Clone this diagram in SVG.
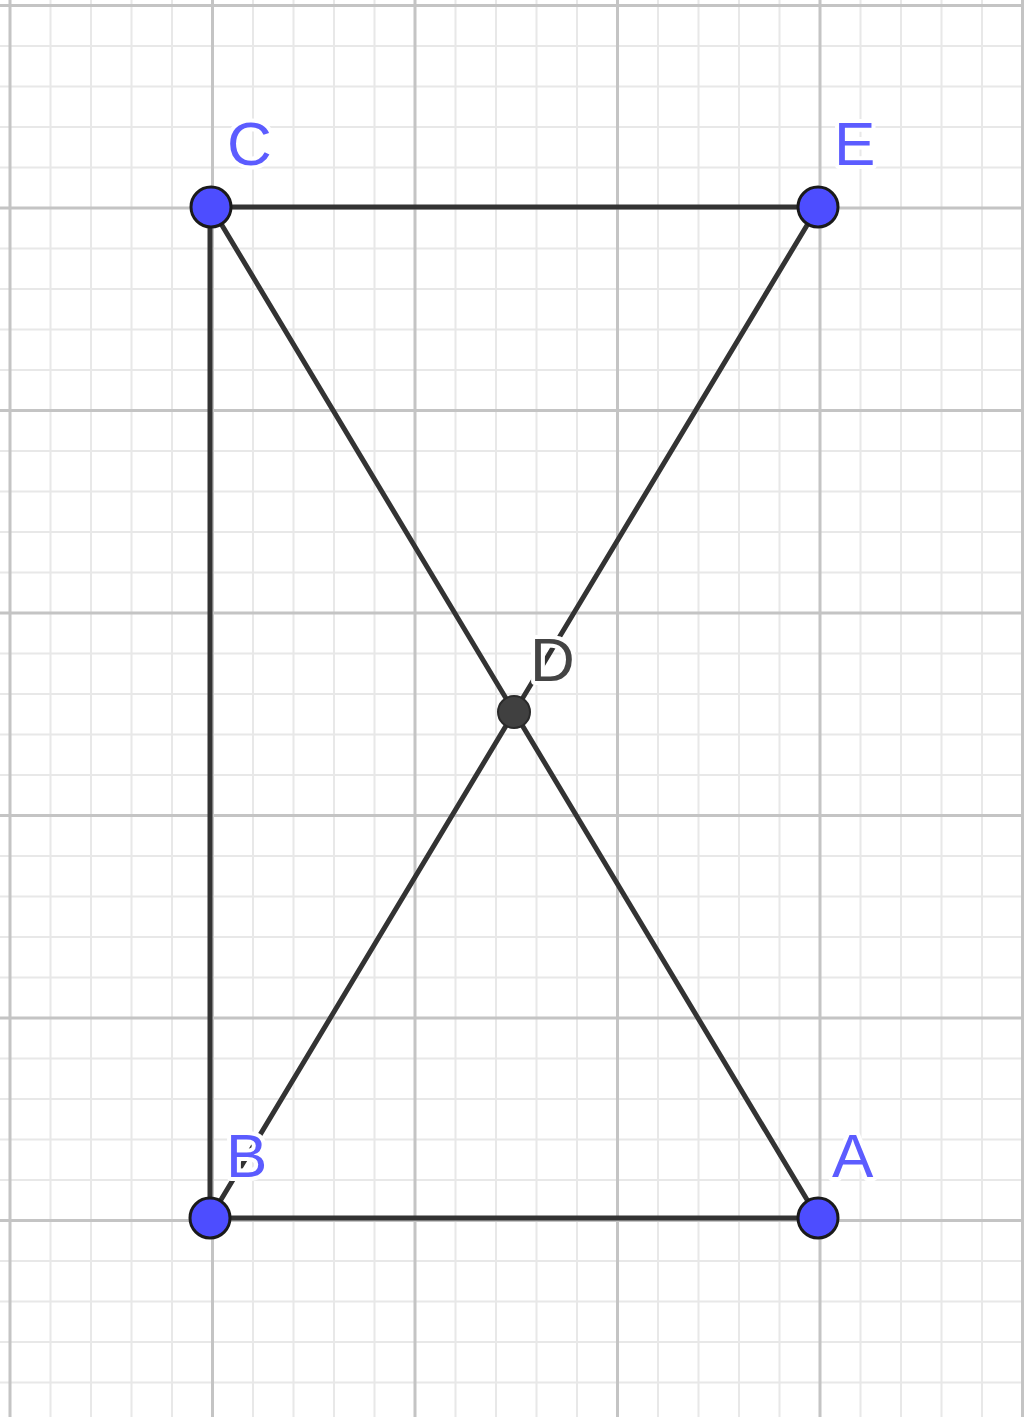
<svg xmlns="http://www.w3.org/2000/svg" width="1024" height="1417" viewBox="0 0 1024 1417">
<defs>
<style>
.minor{stroke:#e8e8e8;stroke-width:2;fill:none}
.major{stroke:#c4c4c4;stroke-width:3;fill:none}
.seg{stroke:#333333;stroke-width:5;fill:none;stroke-linecap:round}
.pt{fill:#4d4dff;stroke:#1a1a1a;stroke-width:3}
.lbl{font-family:"Liberation Sans","DejaVu Sans",sans-serif;font-size:62px;fill:#5c5cff;stroke:#ffffff;stroke-width:8;paint-order:stroke;stroke-linejoin:round}
</style>
</defs>
<rect width="1024" height="1417" fill="#ffffff"/>
<g id="grid">
<path class="minor" d="M50.5 0V1417M91 0V1417M131.5 0V1417M172 0V1417M253 0V1417M293.5 0V1417M334 0V1417M374.5 0V1417M455.5 0V1417M496 0V1417M536.5 0V1417M577 0V1417M658 0V1417M698.5 0V1417M739 0V1417M779.5 0V1417M860.5 0V1417M901 0V1417M941.5 0V1417M982 0V1417"/>
<path class="minor" d="M0 46H1024M0 86.5H1024M0 127H1024M0 167.5H1024M0 248.5H1024M0 289H1024M0 329.5H1024M0 370H1024M0 451H1024M0 491.5H1024M0 532H1024M0 572.5H1024M0 653.5H1024M0 694H1024M0 734.5H1024M0 775H1024M0 856H1024M0 896.5H1024M0 937H1024M0 977.5H1024M0 1058.5H1024M0 1099H1024M0 1139.5H1024M0 1180H1024M0 1261H1024M0 1301.5H1024M0 1342H1024M0 1382.5H1024"/>
<path class="major" d="M10 0V1417M212.5 0V1417M415 0V1417M617.5 0V1417M820 0V1417M1022.5 0V1417"/>
<path class="major" d="M0 5.5H1024M0 208H1024M0 410.5H1024M0 613H1024M0 815.5H1024M0 1018H1024M0 1220.5H1024"/>
</g>
<g id="connectors">
<line class="seg" x1="211" y1="207" x2="818" y2="207"/>
<line class="seg" x1="210" y1="207" x2="210" y2="1218"/>
<line class="seg" x1="210" y1="1218" x2="818" y2="1218"/>
<line class="seg" x1="211" y1="207" x2="818" y2="1218"/>
<line class="seg" x1="818" y1="207" x2="210" y2="1218"/>
</g>
<g id="node-D">
<circle cx="514" cy="712" r="16" fill="#404040" stroke="#2a2a2a" stroke-width="2"/>
<text class="lbl" x="530" y="681" style="fill:#444444">D</text>
</g>
<g id="node-C">
<circle class="pt" cx="211" cy="207" r="20"/>
<text class="lbl" x="227" y="165">C</text>
</g>
<g id="node-E">
<circle class="pt" cx="818" cy="207" r="20"/>
<text class="lbl" x="834" y="165">E</text>
</g>
<g id="node-B">
<circle class="pt" cx="210" cy="1218" r="20"/>
<text class="lbl" x="226" y="1177">B</text>
</g>
<g id="node-A">
<circle class="pt" cx="818" cy="1218" r="20"/>
<text class="lbl" x="832" y="1177">A</text>
</g>
</svg>
